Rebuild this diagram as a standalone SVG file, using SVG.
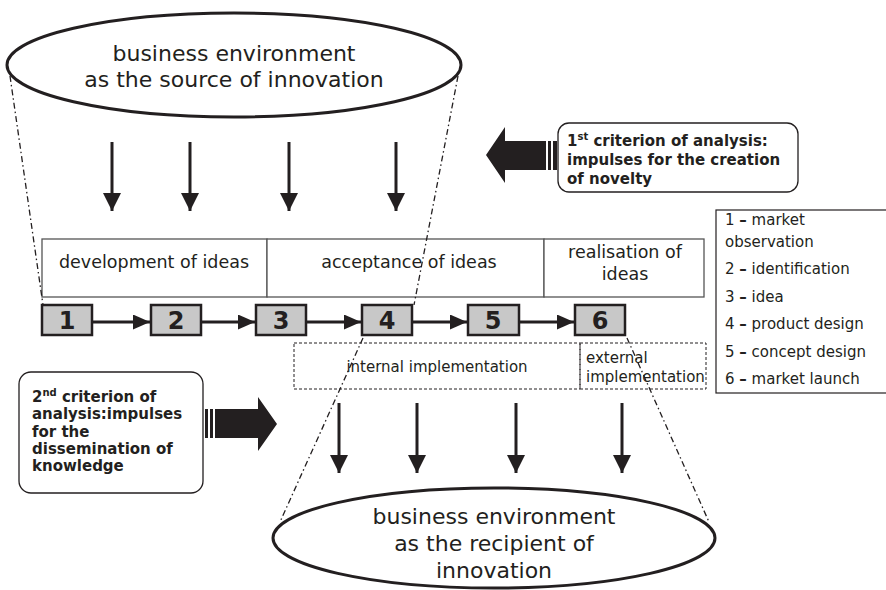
<svg xmlns="http://www.w3.org/2000/svg" width="886" height="590" viewBox="0 0 886 590">
  <defs>
    <marker id="headDown" viewBox="0 0 18 18" markerWidth="18" markerHeight="18" refX="18" refY="9" orient="auto" markerUnits="userSpaceOnUse">
      <path d="M0,0 L18,9 L0,18 Z" fill="#231f20"/>
    </marker>
    <marker id="headStep" viewBox="0 0 17 15" markerWidth="17" markerHeight="15" refX="17" refY="7.5" orient="auto" markerUnits="userSpaceOnUse">
      <path d="M0,0 L17,7.5 L0,15 Z" fill="#231f20"/>
    </marker>
  </defs>
  <style>
    text { font-family: "DejaVu Sans", "Liberation Sans", sans-serif; fill: #231f20; }
    .big { font-size: 22px; text-anchor: middle; }
    .stage { font-size: 17.5px; text-anchor: middle; }
    .impl { font-size: 15px; }
    .legend { font-size: 15px; }
    .crit { font-size: 15px; font-weight: bold; }
    .num { font-size: 24px; font-weight: bold; text-anchor: middle; }
    .env { fill: #ffffff; stroke: #231f20; stroke-width: 3; }
    .stagebox { fill: #ffffff; stroke: #555555; stroke-width: 1.3; }
    .numbox { fill: #c8c8c8; stroke: #231f20; stroke-width: 2.5; }
    .dashbox { fill: none; stroke: #231f20; stroke-width: 1; stroke-dasharray: 3 2; }
    .flow { stroke: #231f20; stroke-width: 3; fill: none; }
    .funnel { stroke: #231f20; stroke-width: 1.3; fill: none; stroke-dasharray: 6 3 1.5 3; }
    .critbox { fill: #ffffff; stroke: #231f20; stroke-width: 1.3; }
    .block { fill: #231f20; }
  </style>

  <!-- source environment -->
  <g id="source-env">
    <ellipse class="env" cx="234" cy="65" rx="227" ry="52"/>
    <text class="big" x="234" y="61">business environment</text>
    <text class="big" x="234" y="87">as the source of innovation</text>
  </g>

  <!-- recipient environment -->
  <g id="recipient-env">
    <ellipse class="env" cx="494" cy="538" rx="221" ry="50"/>
    <text class="big" x="494" y="524">business environment</text>
    <text class="big" x="494" y="551">as the recipient of</text>
    <text class="big" x="494" y="578">innovation</text>
  </g>

  <!-- stage bands -->
  <g id="stage-development">
    <rect class="stagebox" x="42" y="239" width="225" height="58"/>
    <text class="stage" x="154" y="268">development of ideas</text>
  </g>
  <g id="stage-acceptance">
    <rect class="stagebox" x="267" y="239" width="277" height="58"/>
    <text class="stage" x="409" y="268">acceptance of ideas</text>
  </g>
  <g id="stage-realisation">
    <rect class="stagebox" x="544" y="239" width="160" height="58"/>
    <text class="stage" x="625" y="258">realisation of</text>
    <text class="stage" x="625" y="280">ideas</text>
  </g>

  <!-- numbered steps -->
  <g id="step-1"><rect class="numbox" x="42" y="305" width="50" height="30"/><text class="num" x="67" y="329">1</text></g>
  <g id="step-2"><rect class="numbox" x="151" y="305" width="50" height="30"/><text class="num" x="176" y="329">2</text></g>
  <g id="step-3"><rect class="numbox" x="256" y="305" width="50" height="30"/><text class="num" x="281" y="329">3</text></g>
  <g id="step-4"><rect class="numbox" x="362" y="305" width="50" height="30"/><text class="num" x="387" y="329">4</text></g>
  <g id="step-5"><rect class="numbox" x="468" y="305" width="51" height="30"/><text class="num" x="493" y="329">5</text></g>
  <g id="step-6"><rect class="numbox" x="575" y="305" width="50" height="30"/><text class="num" x="600" y="329">6</text></g>

  <!-- implementation areas -->
  <g id="internal-implementation">
    <rect class="dashbox" x="294" y="343" width="286" height="46"/>
    <text class="impl" x="437" y="372" text-anchor="middle">internal implementation</text>
  </g>
  <g id="external-implementation">
    <rect class="dashbox" x="580" y="343" width="126" height="46"/>
    <text class="impl" x="586" y="363">external</text>
    <text class="impl" x="586" y="382">implementation</text>
  </g>

  <!-- legend -->
  <g id="legend">
    <rect x="716" y="210" width="185" height="183" fill="#ffffff" stroke="#231f20" stroke-width="1.2"/>
    <text class="legend" x="725" y="225">1 <tspan font-weight="bold">–</tspan> market</text>
    <text class="legend" x="725" y="247">observation</text>
    <text class="legend" x="725" y="274">2 <tspan font-weight="bold">–</tspan> identification</text>
    <text class="legend" x="725" y="302">3 <tspan font-weight="bold">–</tspan> idea</text>
    <text class="legend" x="725" y="329">4 <tspan font-weight="bold">–</tspan> product design</text>
    <text class="legend" x="725" y="357">5 <tspan font-weight="bold">–</tspan> concept design</text>
    <text class="legend" x="725" y="384">6 <tspan font-weight="bold">–</tspan> market launch</text>
  </g>

  <!-- first criterion -->
  <g id="criterion-1">
    <rect class="critbox" x="558" y="123" width="240" height="69" rx="11"/>
    <text class="crit" x="567" y="146">1<tspan font-size="10" dy="-6">st</tspan><tspan dy="6"> criterion of analysis:</tspan></text>
    <text class="crit" x="567" y="165">impulses for the creation</text>
    <text class="crit" x="567" y="184">of novelty</text>
    <path class="block" d="M486,155 L505,127 L505,141 L546,141 L546,170 L505,170 L505,183 Z"/>
    <rect class="block" x="548" y="141" width="3" height="29"/>
    <rect class="block" x="553" y="141" width="4" height="29"/>
  </g>

  <!-- second criterion -->
  <g id="criterion-2">
    <rect class="critbox" x="19" y="372" width="184" height="121" rx="12"/>
    <text class="crit" x="32" y="402">2<tspan font-size="10" dy="-6">nd</tspan><tspan dy="6"> criterion of</tspan></text>
    <text class="crit" x="32" y="419">analysis:impulses</text>
    <text class="crit" x="32" y="437">for the</text>
    <text class="crit" x="32" y="454">dissemination of</text>
    <text class="crit" x="32" y="471">knowledge</text>
    <rect class="block" x="205" y="409" width="3" height="29"/>
    <rect class="block" x="210" y="409" width="3" height="29"/>
    <path class="block" d="M215,409 L258,409 L258,397 L277,424 L258,451 L258,438 L215,438 Z"/>
  </g>

  <!-- connectors -->
  <g id="connectors">
    <!-- impulses from the source -->
    <line class="flow" x1="112" y1="142" x2="112" y2="211" marker-end="url(#headDown)"/>
    <line class="flow" x1="190" y1="142" x2="190" y2="211" marker-end="url(#headDown)"/>
    <line class="flow" x1="289" y1="142" x2="289" y2="211" marker-end="url(#headDown)"/>
    <line class="flow" x1="396" y1="142" x2="396" y2="211" marker-end="url(#headDown)"/>
    <!-- step sequence -->
    <line class="flow" x1="92" y1="322" x2="150" y2="322" marker-end="url(#headStep)"/>
    <line class="flow" x1="201" y1="322" x2="255" y2="322" marker-end="url(#headStep)"/>
    <line class="flow" x1="306" y1="322" x2="361" y2="322" marker-end="url(#headStep)"/>
    <line class="flow" x1="412" y1="322" x2="467" y2="322" marker-end="url(#headStep)"/>
    <line class="flow" x1="519" y1="322" x2="574" y2="322" marker-end="url(#headStep)"/>
    <!-- transfer to the recipient -->
    <line class="flow" x1="339" y1="403" x2="339" y2="473" marker-end="url(#headDown)"/>
    <line class="flow" x1="417" y1="403" x2="417" y2="473" marker-end="url(#headDown)"/>
    <line class="flow" x1="516" y1="403" x2="516" y2="473" marker-end="url(#headDown)"/>
    <line class="flow" x1="622" y1="403" x2="622" y2="473" marker-end="url(#headDown)"/>
    <!-- funnel outlines -->
    <line class="funnel" x1="10" y1="76" x2="43" y2="305"/>
    <line class="funnel" x1="458" y1="76" x2="414" y2="305"/>
    <line class="funnel" x1="363" y1="338" x2="280" y2="522"/>
    <line class="funnel" x1="627" y1="338" x2="709" y2="522"/>
  </g>
</svg>
